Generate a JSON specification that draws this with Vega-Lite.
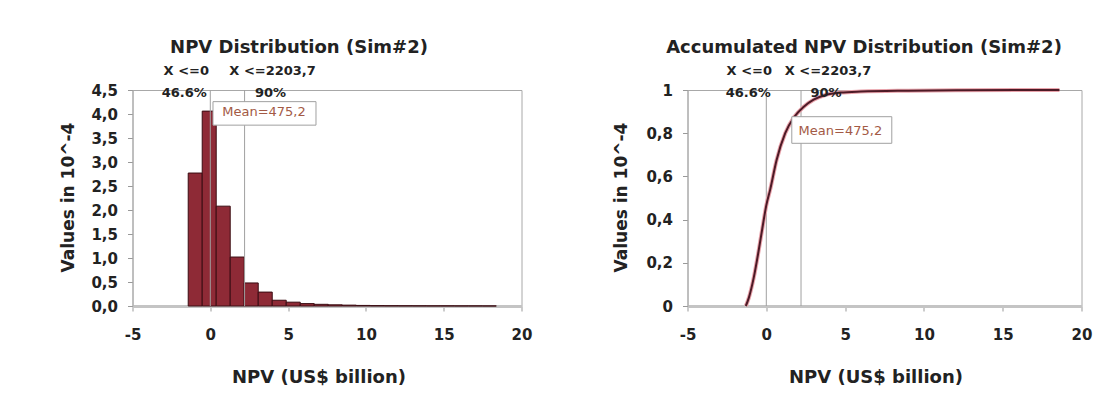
{
  "$schema": "https://vega.github.io/schema/vega-lite/v6.json",
  "autosize": {"type": "none"},
  "padding": {"left": 132.5, "top": 90, "right": 980.5, "bottom": 306},
  "background": "white",
  "config": {
    "font": "DejaVu Sans",
    "view": {"stroke": "#a8a8a8", "strokeWidth": 1},
    "axis": {
      "labelFont": "DejaVu Sans", "labelFontWeight": "bold", "labelFontSize": 15, "labelColor": "#222",
      "titleFont": "DejaVu Sans", "titleFontWeight": "bold", "titleFontSize": 18, "titleColor": "#222",
      "grid": false, "tickColor": "#999", "domainColor": "#aaa", "tickSize": 5,
      "labelFlush": false, "labelOverlap": false
    },
    "title": {"font": "DejaVu Sans", "fontWeight": "bold", "fontSize": 18, "color": "#222"}
  },
  "datasets": {
    "hist": [
      {"x0": -1.42, "x1": -0.52, "h": 2.77},
      {"x0": -0.52, "x1": 0.38, "h": 4.06},
      {"x0": 0.38, "x1": 1.28, "h": 2.08},
      {"x0": 1.28, "x1": 2.18, "h": 1.02},
      {"x0": 2.18, "x1": 3.08, "h": 0.48},
      {"x0": 3.08, "x1": 3.98, "h": 0.29},
      {"x0": 3.98, "x1": 4.88, "h": 0.12},
      {"x0": 4.88, "x1": 5.78, "h": 0.08},
      {"x0": 5.78, "x1": 6.68, "h": 0.05},
      {"x0": 6.68, "x1": 7.58, "h": 0.035},
      {"x0": 7.58, "x1": 8.48, "h": 0.025},
      {"x0": 8.48, "x1": 9.38, "h": 0.018},
      {"x0": 9.38, "x1": 10.28, "h": 0.012},
      {"x0": 10.28, "x1": 11.18, "h": 0.008},
      {"x0": 11.18, "x1": 12.08, "h": 0.006},
      {"x0": 12.08, "x1": 12.98, "h": 0.005},
      {"x0": 12.98, "x1": 13.88, "h": 0.004},
      {"x0": 13.88, "x1": 14.78, "h": 0.003},
      {"x0": 14.78, "x1": 15.68, "h": 0.003},
      {"x0": 15.68, "x1": 16.58, "h": 0.002},
      {"x0": 16.58, "x1": 17.48, "h": 0.002},
      {"x0": 17.48, "x1": 18.38, "h": 0.001}
    ],
    "cdf": [
      {"x": -1.3, "p": 0},
      {"x": -1.1, "p": 0.04},
      {"x": -0.8, "p": 0.13},
      {"x": -0.5, "p": 0.25},
      {"x": -0.25, "p": 0.36},
      {"x": 0, "p": 0.466},
      {"x": 0.25, "p": 0.54},
      {"x": 0.65, "p": 0.675},
      {"x": 1.2, "p": 0.8},
      {"x": 1.77, "p": 0.875},
      {"x": 2.34, "p": 0.92},
      {"x": 3.0, "p": 0.955},
      {"x": 3.8, "p": 0.978},
      {"x": 4.7, "p": 0.988},
      {"x": 6.0, "p": 0.993},
      {"x": 9.0, "p": 0.997},
      {"x": 12.0, "p": 0.999},
      {"x": 18.6, "p": 1.0}
    ],
    "refs": [
      {"x": 0, "cond": "X <=0", "pct": "46.6%"},
      {"x": 2.2037, "cond": "X <=2203,7", "pct": "90%"}
    ],
    "mean": [{"mean": 0.4752, "label": "Mean=475,2"}]
  },
  "spacing": 166,
  "bounds": "flush",
  "hconcat": [
    {
      "width": 389,
      "height": 216,
      "title": {"text": "NPV Distribution (Sim#2)", "anchor": "middle", "dx": -28, "offset": 8},
      "layer": [
        {
          "data": {"name": "hist"},
          "mark": {"type": "rect", "fill": "#8e2a36", "stroke": "#3a0c12", "strokeWidth": 1},
          "encoding": {
            "x": {"field": "x0", "type": "quantitative", "scale": {"domain": [-5, 20], "nice": false},
              "axis": {"values": [-5, 0, 5, 10, 15, 20], "labelExpr": "datum.value + ''", "title": "NPV (US$ billion)",
                "titleX": 186, "titleY": 71, "titleBaseline": "middle", "titleAlign": "center", "labelOverlap": false,
                "domainWidth": 3, "domainColor": "#c4c4c4", "labelPadding": 16}},
            "x2": {"field": "x1"},
            "y": {"field": "h", "type": "quantitative", "scale": {"domain": [0, 4.5], "nice": false},
              "axis": {"values": [0, 0.5, 1, 1.5, 2, 2.5, 3, 3.5, 4, 4.5], "labelOverlap": false,
                "labelExpr": "replace(format(datum.value, '.1f'), '.', ',')",
                "title": "Values in 10^-4", "titleFontSize": 17, "titleX": -64.5, "titleY": 107, "titleAngle": -90,
                "titleBaseline": "middle", "titleAlign": "center", "labelPadding": 10}},
            "y2": {"datum": 0}
          }
        },
        {
          "data": {"name": "refs"},
          "mark": {"type": "rule", "color": "#a0a0a0", "strokeWidth": 1},
          "encoding": {"x": {"field": "x", "type": "quantitative"}}
        },
        {
          "data": {"name": "refs"},
          "transform": [{"filter": "datum.x == 0"}],
          "mark": {"type": "text", "baseline": "middle", "align": "center", "dx": -24, "dy": -19, "fontSize": 13, "fontWeight": "bold", "color": "#222"},
          "encoding": {"x": {"field": "x", "type": "quantitative"}, "y": {"value": 0}, "text": {"field": "cond"}}
        },
        {
          "data": {"name": "refs"},
          "transform": [{"filter": "datum.x == 0"}],
          "mark": {"type": "text", "baseline": "middle", "align": "center", "dx": -26, "dy": 3, "fontSize": 13, "fontWeight": "bold", "color": "#222"},
          "encoding": {"x": {"field": "x", "type": "quantitative"}, "y": {"value": 0}, "text": {"field": "pct"}}
        },
        {
          "data": {"name": "refs"},
          "transform": [{"filter": "datum.x > 0"}],
          "mark": {"type": "text", "baseline": "middle", "align": "center", "dx": 28, "dy": -19, "fontSize": 13, "fontWeight": "bold", "color": "#222"},
          "encoding": {"x": {"field": "x", "type": "quantitative"}, "y": {"value": 0}, "text": {"field": "cond"}}
        },
        {
          "data": {"name": "refs"},
          "transform": [{"filter": "datum.x > 0"}],
          "mark": {"type": "text", "baseline": "middle", "align": "center", "dx": 26, "dy": 3, "fontSize": 13, "fontWeight": "bold", "color": "#222"},
          "encoding": {"x": {"field": "x", "type": "quantitative"}, "y": {"value": 0}, "text": {"field": "pct"}}
        },
        {
          "data": {"name": "mean"},
          "mark": {"type": "rect", "width": 103, "height": 23.5, "fill": "white", "stroke": "#a0a0a0", "strokeWidth": 1},
          "encoding": {
            "x": {"field": "mean", "type": "quantitative"},
            "xOffset": {"value": 46.8},
            "y": {"value": 23.4}
          }
        },
        {
          "data": {"name": "mean"},
          "mark": {"type": "text", "baseline": "middle", "align": "center", "dx": 46.3, "dy": 21.7, "fontSize": 13, "color": "#a35a45"},
          "encoding": {
            "x": {"field": "mean", "type": "quantitative"},
            "y": {"value": 0},
            "text": {"field": "label"}
          }
        }
      ]
    },
    {
      "width": 394,
      "height": 216,
      "title": {"text": "Accumulated NPV Distribution (Sim#2)", "anchor": "middle", "dx": -20.5, "offset": 8},
      "layer": [
        {
          "data": {"name": "refs"},
          "mark": {"type": "rule", "color": "#a0a0a0", "strokeWidth": 1},
          "encoding": {
            "x": {"field": "x", "type": "quantitative", "scale": {"domain": [-5, 20], "nice": false},
              "axis": {"values": [-5, 0, 5, 10, 15, 20], "labelExpr": "datum.value + ''", "title": "NPV (US$ billion)",
                "titleX": 188, "titleY": 71, "titleBaseline": "middle", "titleAlign": "center", "labelOverlap": false,
                "domainWidth": 3, "domainColor": "#c4c4c4", "labelPadding": 16}}
          }
        },
        {
          "data": {"name": "cdf"},
          "mark": {"type": "line", "color": "#e9a3ab", "strokeWidth": 4, "interpolate": "monotone"},
          "encoding": {
            "x": {"field": "x", "type": "quantitative"},
            "y": {"field": "p", "type": "quantitative", "scale": {"domain": [0, 1], "nice": false},
              "axis": {"values": [0, 0.2, 0.4, 0.6, 0.8, 1], "labelOverlap": false,
                "labelExpr": "replace(format(datum.value, '~g'), '.', ',')",
                "title": "Values in 10^-4", "titleFontSize": 17, "titleX": -66.5, "titleY": 107, "titleAngle": -90,
                "titleBaseline": "middle", "titleAlign": "center", "labelPadding": 10}}
          }
        },
        {
          "data": {"name": "cdf"},
          "mark": {"type": "line", "color": "#4d1a26", "strokeWidth": 2, "interpolate": "monotone"},
          "encoding": {
            "x": {"field": "x", "type": "quantitative"},
            "y": {"field": "p", "type": "quantitative"}
          }
        },
        {
          "data": {"name": "refs"},
          "transform": [{"filter": "datum.x == 0"}],
          "mark": {"type": "text", "baseline": "middle", "align": "center", "dx": -17, "dy": -19, "fontSize": 13, "fontWeight": "bold", "color": "#222"},
          "encoding": {"x": {"field": "x", "type": "quantitative"}, "y": {"value": 0}, "text": {"field": "cond"}}
        },
        {
          "data": {"name": "refs"},
          "transform": [{"filter": "datum.x == 0"}],
          "mark": {"type": "text", "baseline": "middle", "align": "center", "dx": -18, "dy": 3, "fontSize": 13, "fontWeight": "bold", "color": "#222"},
          "encoding": {"x": {"field": "x", "type": "quantitative"}, "y": {"value": 0}, "text": {"field": "pct"}}
        },
        {
          "data": {"name": "refs"},
          "transform": [{"filter": "datum.x > 0"}],
          "mark": {"type": "text", "baseline": "middle", "align": "center", "dx": 27, "dy": -19, "fontSize": 13, "fontWeight": "bold", "color": "#222"},
          "encoding": {"x": {"field": "x", "type": "quantitative"}, "y": {"value": 0}, "text": {"field": "cond"}}
        },
        {
          "data": {"name": "refs"},
          "transform": [{"filter": "datum.x > 0"}],
          "mark": {"type": "text", "baseline": "middle", "align": "center", "dx": 25, "dy": 3, "fontSize": 13, "fontWeight": "bold", "color": "#222"},
          "encoding": {"x": {"field": "x", "type": "quantitative"}, "y": {"value": 0}, "text": {"field": "pct"}}
        },
        {
          "data": {"name": "mean"},
          "mark": {"type": "rect", "width": 100, "height": 26.6, "fill": "white", "stroke": "#a0a0a0", "strokeWidth": 1},
          "encoding": {
            "x": {"field": "mean", "type": "quantitative"},
            "xOffset": {"value": 68},
            "y": {"value": 40}
          }
        },
        {
          "data": {"name": "mean"},
          "mark": {"type": "text", "baseline": "middle", "align": "center", "dx": 66.6, "dy": 40.7, "fontSize": 13, "color": "#a35a45"},
          "encoding": {
            "x": {"field": "mean", "type": "quantitative"},
            "y": {"value": 0},
            "text": {"field": "label"}
          }
        }
      ]
    }
  ]
}
